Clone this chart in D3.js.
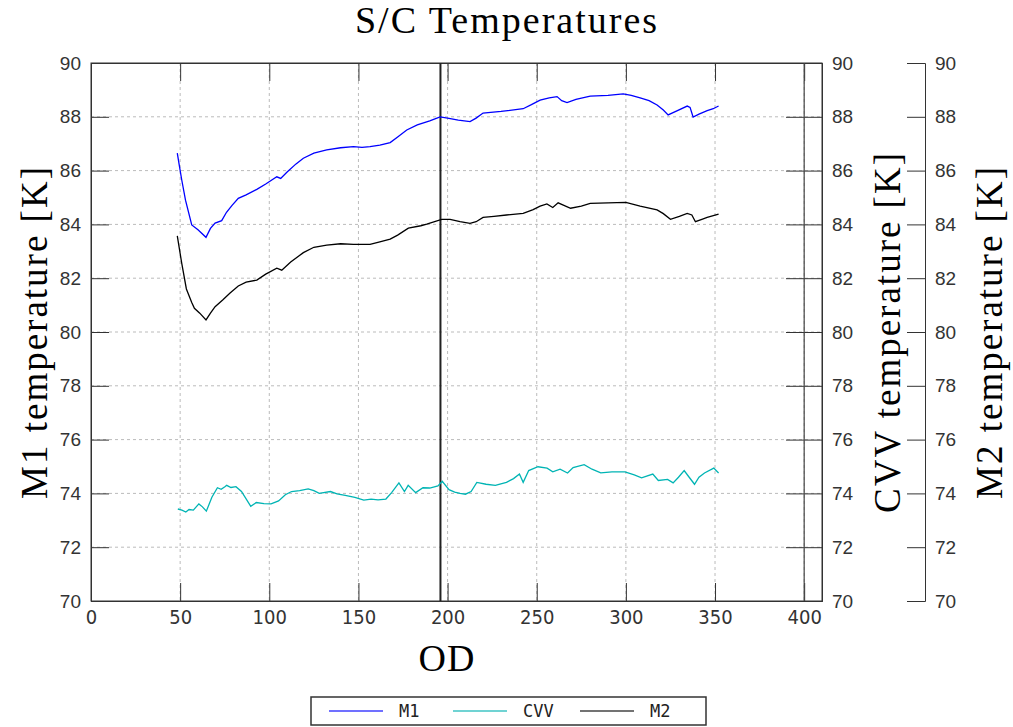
<!DOCTYPE html>
<html>
<head>
<meta charset="utf-8">
<script src="https://cdn.jsdelivr.net/npm/d3@7"></script>
<style>
  body { margin: 0; background: #fff; }
  .tick text { fill: #333; }
</style>
</head>
<body>
<div id="chart"></div>
<script>
// OD / temperature samples
var odM1 = [48.4, 49.5, 50.9, 53, 56.5, 60, 64.5, 67, 69.6, 73.3, 76, 79, 82.6, 87, 93, 98, 104.2, 106.4, 110, 115, 119.1, 125, 132.2, 140, 147.2, 152, 156.5, 162, 167.8, 172, 177.1, 183, 190, 195.8, 200, 206, 212.6, 216, 219.9, 230, 242.4, 247, 251.9, 257, 261.4, 264, 267, 272, 280, 290, 298.5, 303, 308, 313, 317.5, 321, 323.7, 328, 334.4, 336, 337.7, 341, 345.6, 349, 352];
var m1 = [86.65, 86.2, 85.65, 84.9, 83.98, 83.8, 83.52, 83.85, 84.05, 84.14, 84.45, 84.7, 84.97, 85.1, 85.3, 85.5, 85.77, 85.71, 85.95, 86.25, 86.46, 86.65, 86.77, 86.85, 86.89, 86.86, 86.89, 86.95, 87.04, 87.25, 87.51, 87.7, 87.85, 88.0, 87.95, 87.88, 87.82, 87.95, 88.14, 88.2, 88.3, 88.45, 88.62, 88.7, 88.75, 88.6, 88.53, 88.65, 88.77, 88.8, 88.85, 88.8, 88.7, 88.6, 88.44, 88.25, 88.07, 88.2, 88.4, 88.35, 87.99, 88.1, 88.23, 88.3, 88.4];

var odM2 = [48.4, 50.9, 53.5, 56.5, 58, 61, 64.5, 67, 69.6, 74, 78, 82.6, 87, 93, 98, 104.2, 107, 112, 119.1, 125, 132.2, 140, 147.2, 156.5, 162, 167.8, 172, 178, 185, 188.3, 196.7, 201.4, 207, 212.6, 216, 219.9, 226, 233, 242.4, 248, 251.9, 255.7, 259, 262, 269, 275, 280, 290, 300, 308, 317.5, 321, 325, 330, 334.4, 337, 339, 343, 345.6, 352];
var m2 = [83.57, 82.55, 81.6, 81.1, 80.88, 80.7, 80.45, 80.7, 80.94, 81.2, 81.45, 81.71, 81.85, 81.93, 82.15, 82.37, 82.3, 82.6, 82.95, 83.15, 83.23, 83.28, 83.26, 83.26, 83.35, 83.45, 83.6, 83.86, 83.95, 84.01, 84.19, 84.19, 84.1, 84.04, 84.1, 84.26, 84.3, 84.35, 84.41, 84.55, 84.68, 84.76, 84.63, 84.8, 84.6, 84.68, 84.78, 84.8, 84.82, 84.68, 84.54, 84.4, 84.19, 84.3, 84.41, 84.35, 84.1, 84.2, 84.26, 84.38];

var odCVV = [48.7, 51, 53.2, 55, 57.4, 60.5, 62.5, 64.7, 67.8, 70.9, 73, 75.1, 76.1, 78.5, 81.3, 84.4, 87, 89.6, 92.7, 97, 101, 105.2, 109, 112.5, 117, 121.8, 125, 128, 134.3, 138, 142.6, 148, 153, 157.1, 161, 165.4, 168.6, 172.7, 175.8, 177.9, 182.1, 186.2, 190, 194.6, 197, 200.8, 204, 207, 210, 213.2, 216.4, 221.6, 226.8, 233, 237, 240.3, 242.4, 245.5, 250.7, 255.8, 259, 263.1, 267.3, 270.4, 276.6, 281, 285.9, 292.2, 299.5, 304.7, 308.8, 315.1, 318.2, 323.4, 326.5, 329.5, 332.7, 335.5, 338.5, 341, 344.1, 349.3, 352];
var cvv = [73.42, 73.38, 73.31, 73.4, 73.38, 73.61, 73.5, 73.34, 73.86, 74.21, 74.15, 74.25, 74.3, 74.22, 74.25, 74.07, 73.8, 73.52, 73.66, 73.62, 73.61, 73.72, 73.95, 74.07, 74.1, 74.17, 74.1, 74.0, 74.07, 73.98, 73.93, 73.85, 73.75, 73.79, 73.76, 73.79, 74.03, 74.39, 74.07, 74.3, 74.03, 74.21, 74.2, 74.28, 74.45, 74.14, 74.05, 74.0, 73.97, 74.07, 74.41, 74.34, 74.3, 74.41, 74.55, 74.72, 74.41, 74.85, 74.99, 74.94, 74.8, 74.9, 74.76, 74.96, 75.07, 74.9, 74.76, 74.8, 74.8, 74.69, 74.58, 74.72, 74.48, 74.52, 74.39, 74.6, 74.85, 74.6, 74.34, 74.6, 74.76, 74.94, 74.76];

var xTicks = [0, 50, 100, 150, 200, 250, 300, 350, 400];
var yTicks = [70, 72, 74, 76, 78, 80, 82, 84, 86, 88, 90];
var markers = [196, 400];

var seriesNames = ['M1', 'CVV', 'M2'];

var width = 1013, height = 727;
var pLeft = 91, pRight = 822, pTop = 63, pBottom = 601;
var m2AxisX = 925;

var svg = d3.select('#chart').append('svg')
  .attr('width', width)
  .attr('height', height)
  .style('font-family', 'DejaVu Sans');

var x = d3.scaleLinear().domain([0, 410]).range([pLeft, pRight]);
var y = d3.scaleLinear().domain([70, 90]).range([pBottom, pTop]);

// dashed grid
svg.append('g').selectAll('line').data(xTicks.slice(1))
  .enter().append('line')
  .attr('x1', function(d){ return x(d); }).attr('x2', function(d){ return x(d); })
  .attr('y1', pTop).attr('y2', pBottom)
  .attr('stroke', '#bbb').attr('stroke-dasharray', '3,3');
svg.append('g').selectAll('line').data(yTicks.slice(1, -1))
  .enter().append('line')
  .attr('y1', function(d){ return y(d); }).attr('y2', function(d){ return y(d); })
  .attr('x1', pLeft).attr('x2', pRight)
  .attr('stroke', '#bbb').attr('stroke-dasharray', '3,3');

var tickFmt = d3.format('d');

// bottom axis (ticks inward)
var gx = svg.append('g').attr('transform', 'translate(0,' + pBottom + ')')
  .call(d3.axisBottom(x).tickValues(xTicks).tickFormat(tickFmt).tickSize(-18).tickPadding(4));
gx.selectAll('text').attr('y', 9).attr('dy', '0.71em')
  .style('font-family', 'DejaVu Sans Condensed').style('font-size', '20px');

// top axis, ticks only
svg.append('g').attr('transform', 'translate(0,' + pTop + ')')
  .call(d3.axisTop(x).tickValues(xTicks).tickFormat('').tickSize(-18));

// left axis (M1)
var gl = svg.append('g').attr('transform', 'translate(' + pLeft + ',0)')
  .call(d3.axisLeft(y).tickValues(yTicks).tickFormat(tickFmt).tickSize(-18));
gl.selectAll('text').attr('x', -10).style('font-size', '19px');

// right axis (CVV)
var gr = svg.append('g').attr('transform', 'translate(' + pRight + ',0)')
  .call(d3.axisRight(y).tickValues(yTicks).tickFormat(tickFmt).tickSize(-36));
gr.selectAll('text').attr('x', 10).style('font-size', '19px');

// outer axis (M2)
var gm = svg.append('g').attr('transform', 'translate(' + m2AxisX + ',0)')
  .call(d3.axisRight(y).tickValues(yTicks).tickFormat(tickFmt).tickSize(-18));
gm.selectAll('text').attr('x', 10).style('font-size', '19px');

svg.selectAll('.domain').attr('stroke', '#333');
svg.selectAll('.tick line').attr('stroke', '#333');

// frame
svg.append('rect')
  .attr('x', pLeft).attr('y', pTop)
  .attr('width', pRight - pLeft).attr('height', pBottom - pTop)
  .attr('fill', 'none').attr('stroke', '#333');

// vertical marker lines
svg.append('g').selectAll('line').data(markers)
  .enter().append('line')
  .attr('x1', function(d){ return x(d); }).attr('x2', function(d){ return x(d); })
  .attr('y1', pTop).attr('y2', pBottom)
  .attr('stroke', function(d, i){ return i === 0 ? '#222' : '#444'; })
  .attr('stroke-width', function(d, i){ return i === 0 ? 2 : 1.2; });

// series
var line = d3.line()
  .x(function(d){ return x(d[0]); })
  .y(function(d){ return y(d[1]); });

var series = [
  {name: 'M1', od: odM1, v: m1, color: '#0000ff', legend: '#4040ff'},
  {name: 'CVV', od: odCVV, v: cvv, color: '#00b4b4', legend: '#40c4c4'},
  {name: 'M2', od: odM2, v: m2, color: '#000', legend: '#444'}
];

series.forEach(function(s){
  svg.append('path')
    .datum(d3.zip(s.od, s.v))
    .attr('fill', 'none')
    .attr('stroke', s.color)
    .attr('stroke-width', 1.3)
    .attr('d', line);
});

// titles
svg.append('text')
  .attr('x', 507).attr('y', 33)
  .attr('text-anchor', 'middle')
  .style('font-family', 'Liberation Serif').style('font-size', '38px')
  .style('letter-spacing', '2px')
  .text('S/C Temperatures');

svg.append('text')
  .attr('x', 447).attr('y', 671)
  .attr('text-anchor', 'middle')
  .style('font-family', 'Liberation Serif').style('font-size', '38px')
  .style('letter-spacing', '1px')
  .text('OD');

var yTitles = [
  {t: 'M1 temperature [K]', x: 47},
  {t: 'CVV temperature [K]', x: 900},
  {t: 'M2 temperature [K]', x: 1002}
];
yTitles.forEach(function(d){
  svg.append('text')
    .attr('transform', 'translate(' + d.x + ',' + ((pTop + pBottom) / 2) + ') rotate(-90)')
    .attr('text-anchor', 'middle')
    .style('font-family', 'Liberation Serif').style('font-size', '37px')
    .style('letter-spacing', '2px')
    .text(d.t);
});

// legend
var lg = svg.append('g');
lg.append('rect')
  .attr('x', 311).attr('y', 697).attr('width', 395).attr('height', 28)
  .attr('fill', '#fff').attr('stroke', '#333').attr('stroke-width', 1.5);
var legendX = [329, 453, 580];
series.forEach(function(s, i){
  lg.append('line')
    .attr('x1', legendX[i]).attr('x2', legendX[i] + 54)
    .attr('y1', 711).attr('y2', 711)
    .attr('stroke', s.legend).attr('stroke-width', 1.5);
  lg.append('text')
    .attr('x', legendX[i] + 70).attr('y', 717)
    .style('font-family', 'DejaVu Sans Mono').style('font-size', '17px')
    .attr('fill', '#222')
    .text(seriesNames[i]);
});
</script>
</body>
</html>
